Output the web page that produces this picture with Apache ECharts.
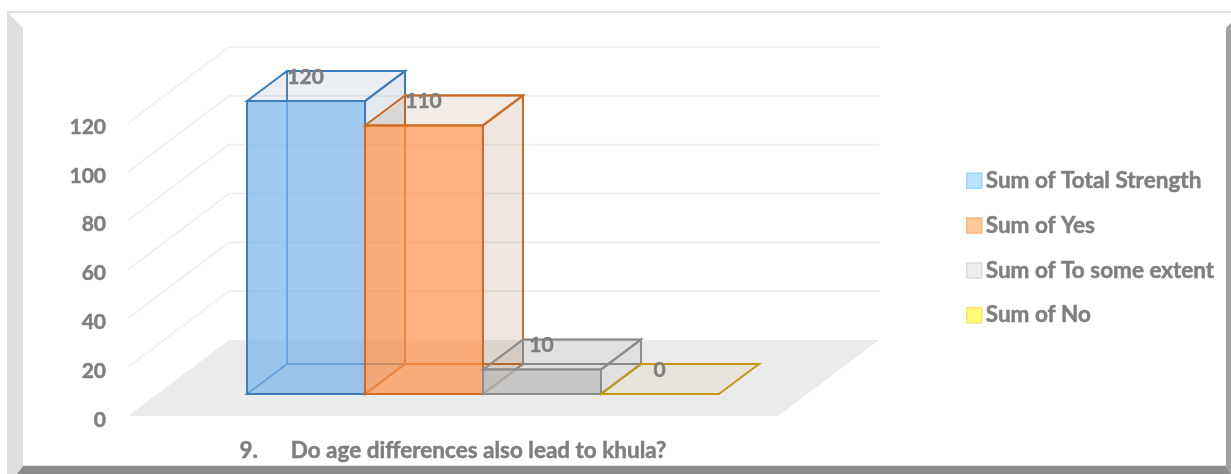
<!DOCTYPE html>
<html>
<head>
<meta charset="utf-8">
<style>
  html, body { margin: 0; padding: 0; background: #fff; }
  #chart { width: 1231px; height: 474px; }
</style>
<script src="https://cdn.jsdelivr.net/npm/echarts@6/dist/echarts.min.js"></script>
</head>
<body>
<div id="chart"></div>
<script>
var categories = ["9.      Do age differences also lead to khula?"];
var seriesNames = ["Sum of Total Strength", "Sum of Yes", "Sum of To some extent", "Sum of No"];
var totalStrength = [120];
var yes = [110];
var toSomeExtent = [10];
var no = [0];
var yTicks = [0, 20, 40, 60, 80, 100, 120];

var seriesValues = [totalStrength, yes, toSomeExtent, no];

var fontFamily = "Lato, Carlito, sans-serif";
var textColor = "#7f7f7f";

// fake 3d: box depth is an offset from the front plane of the axes
var floorDepth = [101, -76];
var barFront = [30, -22];
var barDepth = [40, -30];
var barShare = 0.1815;

var barStyles = [
  { edge: "#3a7dbd", front: "rgba(119,178,232,0.7)", face: "rgba(65,105,145,0.1)", side: "rgba(65,105,145,0.15)" },
  { edge: "#cf6a20", front: "rgba(255,146,73,0.7)", face: "rgba(135,65,5,0.1)", side: "rgba(135,65,5,0.13)" },
  { edge: "#8c8c8c", front: "rgba(182,182,182,0.7)", face: "rgba(100,100,100,0.08)", side: "rgba(100,100,100,0.08)" },
  { edge: "#c49a0e", front: "rgba(190,150,40,0.08)", face: "rgba(190,150,40,0.08)", side: "rgba(190,150,40,0.08)" }
];

var legendStyles = [
  { color: "#b9e4fd", borderColor: "#9fd0fb", borderWidth: 1.5 },
  { color: "#fdcb9b", borderColor: "#fbb27d", borderWidth: 1.5 },
  { color: "#eeeeee", borderColor: "#dcdcdc", borderWidth: 1.5 },
  { color: "#fffe76", borderColor: "#fde068", borderWidth: 1.5 }
];

function poly(points, fill, stroke, width) {
  return {
    type: "polygon",
    shape: { points: points },
    style: { fill: fill, stroke: stroke || null, lineWidth: width || 0 }
  };
}

function renderWall(params, api) {
  var rect = params.coordSys;
  var p = api.coord([api.value(0), api.value(1)]);
  var left = rect.x;
  var right = rect.x + rect.width;
  var backLeft = [left + floorDepth[0], p[1] + floorDepth[1]];
  var backRight = [right + floorDepth[0], p[1] + floorDepth[1]];
  if (api.value(1) === 0) {
    return poly([[left, p[1]], [right, p[1]], backRight, backLeft], "#ebebeb");
  }
  return {
    type: "polyline",
    shape: { points: [[left, p[1]], backLeft, backRight] },
    style: { fill: null, stroke: "#efefef", lineWidth: 1.6 }
  };
}

function renderBox(index) {
  return function (params, api) {
    var cat = api.value(0);
    var base = api.coord([cat, 0]);
    var top = api.coord([cat, api.value(1)]);
    var w = api.size([1, 0])[0] * barShare;
    var x0 = base[0] + barFront[0] + (index - 2) * w;
    var x1 = x0 + w;
    var yb = base[1] + barFront[1];
    var yt = top[1] + barFront[1];
    var dx = barDepth[0];
    var dy = barDepth[1];
    var st = barStyles[index];
    var lw = 2;
    var none = "rgba(0,0,0,0)";
    var kids = [];
    if (api.value(1) === 0) {
      kids.push(poly([[x0, yb], [x1, yb], [x1 + dx, yb + dy], [x0 + dx, yb + dy]], st.front, st.edge, lw));
    } else {
      // back faces first so the front fill tints their edges
      kids.push(poly([[x0, yb], [x1, yb], [x1 + dx, yb + dy], [x0 + dx, yb + dy]], none, st.edge, 1.8));
      kids.push(poly([[x0 + dx, yb + dy], [x1 + dx, yb + dy], [x1 + dx, yt + dy], [x0 + dx, yt + dy]], none, st.edge, 1.8));
      kids.push(poly([[x1, yb], [x1 + dx, yb + dy], [x1 + dx, yt + dy], [x1, yt]], st.side, st.edge, lw));
      kids.push(poly([[x0, yt], [x1, yt], [x1 + dx, yt + dy], [x0 + dx, yt + dy]], st.face, st.edge, lw));
      kids.push(poly([[x0, yb], [x1, yb], [x1, yt], [x0, yt]], st.front, st.edge, lw));
    }
    kids.push({
      type: "text",
      z2: 50,
      style: {
        text: String(api.value(1)),
        x: x0 + dx + 18.5,
        y: yt + dy + 6,
        align: "center",
        verticalAlign: "middle",
        fill: textColor,
        stroke: textColor,
        lineWidth: 0.5,
        font: "bold 21px " + fontFamily
      }
    });
    return { type: "group", children: kids };
  };
}

var series = [{
  type: "custom",
  name: "walls",
  silent: true,
  z: 1,
  renderItem: renderWall,
  encode: { x: 0, y: 1 },
  data: yTicks.map(function (t) { return [categories[0], t]; })
}];

seriesNames.forEach(function (name, i) {
  series.push({
    type: "custom",
    name: name,
    silent: true,
    z: 2 + i,
    itemStyle: { color: legendStyles[i].color },
    renderItem: renderBox(i),
    encode: { x: 0, y: 1 },
    data: categories.map(function (c, k) { return [c, seriesValues[i][k]]; })
  });
});

var chart = echarts.init(document.getElementById("chart"));
chart.setOption({
  animation: false,
  backgroundColor: "#fff",
  grid: { left: 128, top: 123, width: 650, height: 293 },
  xAxis: {
    type: "category",
    data: categories,
    axisLine: { show: false },
    axisTick: { show: false },
    axisLabel: {
      color: textColor,
      fontFamily: fontFamily,
      fontWeight: "bold",
      fontSize: 22.5,
      textBorderColor: textColor,
      textBorderWidth: 0.5,
      margin: 23
    }
  },
  yAxis: {
    type: "value",
    min: 0,
    max: 120,
    interval: 20,
    axisLine: { show: false },
    axisTick: { show: false },
    splitLine: { show: false },
    axisLabel: {
      color: textColor,
      fontFamily: fontFamily,
      fontWeight: "bold",
      fontSize: 21,
      textBorderColor: textColor,
      textBorderWidth: 0.5,
      verticalAlign: "top",
      lineHeight: 8,
      margin: 22
    }
  },
  legend: {
    orient: "vertical",
    left: 966,
    top: 169,
    padding: 0,
    icon: "rect",
    itemWidth: 15,
    itemHeight: 15,
    itemGap: 21.33,
    selectedMode: false,
    textStyle: {
      color: textColor,
      fontFamily: fontFamily,
      fontWeight: "bold",
      fontSize: 22.5,
      textBorderColor: textColor,
      textBorderWidth: 0.5,
      padding: [0, 0, 0, -1]
    },
    data: seriesNames.map(function (name, i) {
      return { name: name, itemStyle: legendStyles[i] };
    })
  },
  graphic: [
    // picture frame round the chart
    { type: "polygon", silent: true, shape: { points: [[7, 12], [23, 28], [23, 466], [17, 474], [7, 474]] }, style: { fill: "#dedede" } },
    { type: "polygon", silent: true, shape: { points: [[23, 466], [1226, 466], [1231, 474], [17, 474]] }, style: { fill: "#8c8c8c" } },
    { type: "polygon", silent: true, shape: { points: [[1226, 28], [1231, 23], [1231, 474], [1226, 466]] }, style: { fill: "#a0a0a0" } },
    { type: "line", silent: true, shape: { x1: 7, y1: 12, x2: 1231, y2: 12 }, style: { stroke: "#dedede", lineWidth: 2 } },
    { type: "line", silent: true, shape: { x1: 23, y1: 465.5, x2: 1226, y2: 465.5 }, style: { stroke: "#e4e4e4", lineWidth: 1 } }
  ],
  series: series
});
</script>
</body>
</html>
